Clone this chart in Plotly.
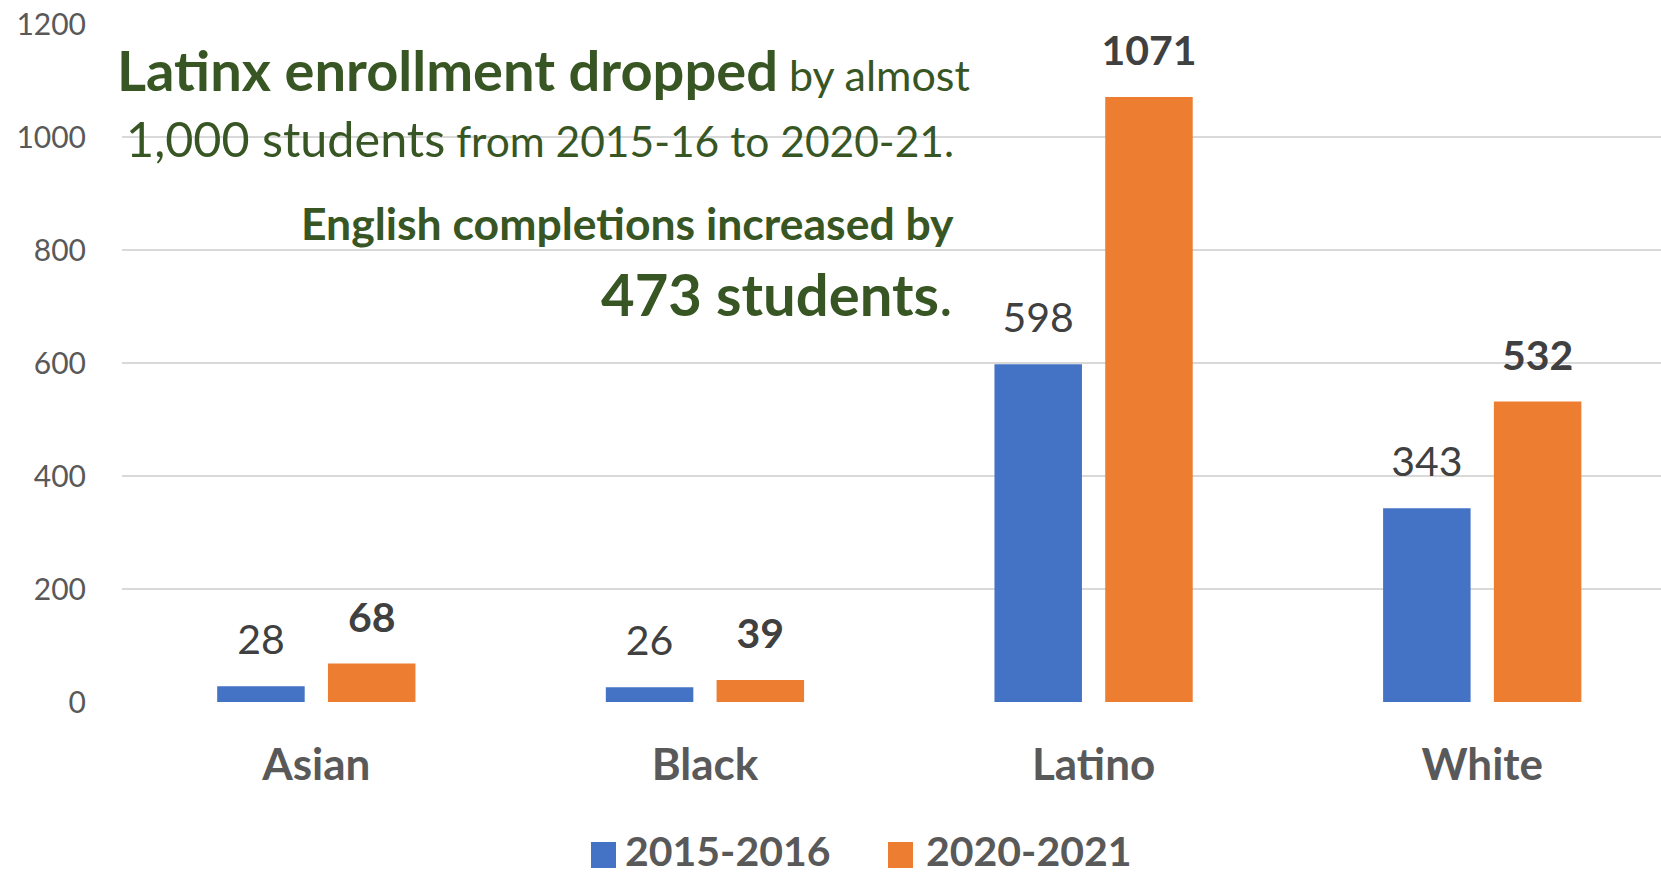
import plotly.graph_objects as go

categories = ["Asian", "Black", "Latino", "White"]
series_names = ["2015-2016", "2020-2021"]
values_2015 = [28, 26, 598, 343]
values_2020 = [68, 39, 1071, 532]
y_ticks = [0, 200, 400, 600, 800, 1000, 1200]

BLUE = "#4472C4"
ORANGE = "#ED7D31"
GREEN = "#375623"
GREY = "#595959"
DARK = "#404040"
FONT = "Lato"

W, H = 1661, 877
L, R, T, B = 122, 0, 24, 175
pw, ph = W - L - R, H - T - B


def px(x):
    return (x - L) / pw


def py(y):
    return (H - B - y) / ph


fig = go.Figure()
fig.add_trace(go.Bar(x=categories, y=values_2015, name=series_names[0],
                     marker=dict(color=BLUE, line=dict(width=0)), showlegend=False))
fig.add_trace(go.Bar(x=categories, y=values_2020, name=series_names[1],
                     marker=dict(color=ORANGE, line=dict(width=0)), showlegend=False))

# data labels (grouped scatter text aligned with bars)
fig.add_trace(go.Scatter(x=categories, y=values_2015, mode="markers+text",
                         text=[str(v) for v in values_2015], textposition="top center",
                         marker=dict(size=33, color="rgba(0,0,0,0)"),
                         textfont=dict(family=FONT, size=41, color=DARK),
                         cliponaxis=False, showlegend=False, hoverinfo="skip"))
fig.add_trace(go.Scatter(x=categories, y=values_2020, mode="markers+text",
                         text=[str(v) for v in values_2020], textposition="top center",
                         marker=dict(size=33, color="rgba(0,0,0,0)"),
                         textfont=dict(family=FONT, size=41, color=DARK, weight="bold"),
                         cliponaxis=False, showlegend=False, hoverinfo="skip"))

annotations = [
    dict(text='<b>Latinx enrollment dropped</b><span style="font-size:43px"> by almost</span>',
         x=px(543), y=py(69), xanchor="center", yanchor="middle",
         font=dict(family=FONT, size=56, color=GREEN)),
    dict(text='1,000 students<span style="font-size:42.5px"> from 2015-16 to 2020-21.</span>',
         x=px(540), y=py(138), xanchor="center", yanchor="middle",
         font=dict(family=FONT, size=48.5, color=GREEN)),
    dict(text='<b>English completions increased by</b>',
         x=px(956), y=py(222), xanchor="right", yanchor="middle",
         font=dict(family=FONT, size=44.5, color=GREEN)),
    dict(text='<b>473 students</b>.',
         x=px(955), y=py(294), xanchor="right", yanchor="middle",
         font=dict(family=FONT, size=58, color=GREEN)),
    dict(text='<b>' + series_names[0] + '</b>',
         x=px(624), y=py(850), xanchor="left", yanchor="middle", borderpad=0,
         font=dict(family=FONT, size=41, color=GREY)),
    dict(text='<b>' + series_names[1] + '</b>',
         x=px(925), y=py(850), xanchor="left", yanchor="middle", borderpad=0,
         font=dict(family=FONT, size=41, color=GREY)),
]
for a in annotations:
    a.update(xref="paper", yref="paper", showarrow=False)

shapes = [
    dict(type="rect", xref="paper", yref="paper", x0=px(591), x1=px(616),
         y0=py(868), y1=py(842), fillcolor=BLUE, line=dict(width=0)),
    dict(type="rect", xref="paper", yref="paper", x0=px(888), x1=px(913),
         y0=py(868), y1=py(842), fillcolor=ORANGE, line=dict(width=0)),
]

fig.update_layout(
    width=W, height=H,
    margin=dict(l=L, r=R, t=T, b=B, pad=0),
    paper_bgcolor="white", plot_bgcolor="white",
    barmode="group", bargap=0.43, bargroupgap=0.21,
    scattermode="group", scattergap=0.43,
    showlegend=False,
    annotations=annotations, shapes=shapes,
    font=dict(family=FONT, color=GREY),
    xaxis=dict(range=[-0.5, 3.46], showgrid=False, zeroline=False, showline=False,
               ticks="", ticklabelstandoff=33,
               tickfont=dict(family=FONT, size=44, color=GREY, weight="bold")),
    yaxis=dict(range=[0, 1200], tickvals=y_ticks, ticktext=[str(v) for v in y_ticks],
               showgrid=True, gridcolor="#D9D9D9", gridwidth=2, zeroline=False,
               showline=False, ticks="", ticklabelstandoff=35,
               tickfont=dict(family=FONT, size=30, color=GREY)),
)

fig.write_html("out.html", config={"displayModeBar": False},
               post_script="document.body.style.margin='0';document.body.style.overflow='hidden';")
